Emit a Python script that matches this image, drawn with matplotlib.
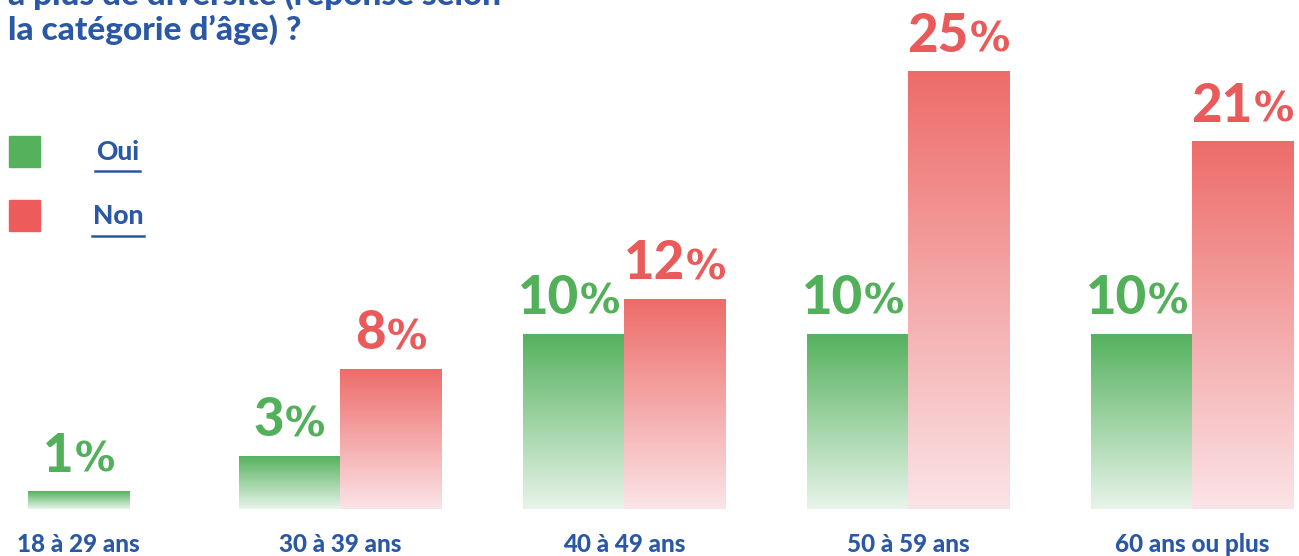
import numpy as np
import matplotlib
matplotlib.use("Agg")
from matplotlib import pyplot as plt
from matplotlib.colors import LinearSegmentedColormap
from matplotlib.patches import Rectangle
from matplotlib.lines import Line2D
from matplotlib.transforms import blended_transform_factory

plt.rcParams['font.family'] = ['Lato', 'DejaVu Sans']

ages = ['18 à 29 ans', '30 à 39 ans', '40 à 49 ans', '50 à 59 ans', '60 ans ou plus']
oui = [1, 3, 10, 10, 10]
non = [None, 8, 12, 25, 21]
series = ['Oui', 'Non']
title_lines = ['à plus de diversité (réponse selon', 'la catégorie d’âge) ?']

BLUE = '#2b58a5'
GREEN = '#52b05a'
RED = '#eb5a5a'
green_cmap = LinearSegmentedColormap.from_list('g', ['#e8f4ea', '#55b25e'])
red_cmap = LinearSegmentedColormap.from_list('r', ['#fbe4e7', '#ed6c69'])

W, H = 1299, 556
fig = plt.figure(figsize=(W / 100, H / 100), dpi=100)
ax = fig.add_axes([0, 47 / H, 1, 509 / H])

w = 0.357          # bar width (group spacing = 1)
solo_shift = 0.08  # groups with only one bar
grad = np.linspace(0, 1, 256).reshape(-1, 1)


def grad_bar(x0, h, cmap):
    ax.imshow(grad, extent=(x0, x0 + w, 0, h), origin='lower', cmap=cmap,
              aspect='auto', interpolation='bicubic', zorder=2)


# bars first
spots = []
for i in range(len(ages)):
    if non[i] is None:
        xg = i - w / 2 + solo_shift
        grad_bar(xg, oui[i], green_cmap)
        spots.append((xg, oui[i], GREEN, False))
    else:
        xg = i - w
        grad_bar(xg, oui[i], green_cmap)
        grad_bar(i, non[i], red_cmap)
        spots.append((xg, oui[i], GREEN, True))
        spots.append((i, non[i], RED, False))

ax.set_xlim(-56 / 284, (W - 56) / 284)
ax.set_ylim(0, 509 / 17.5)
ax.axis('off')

fig.canvas.draw()
r = fig.canvas.get_renderer()


def value_label(x0, h, color, limit):
    t1 = ax.annotate(str(h), (x0, h), xytext=(0, 20), textcoords='offset pixels',
                     ha='left', va='baseline', fontsize=38, fontweight='black', color=color)
    t2 = ax.annotate('%', (x0, h), xytext=(0, 20), textcoords='offset pixels',
                     ha='left', va='baseline', fontsize=29, fontweight='bold',
                     family='DejaVu Sans', color=color)
    wn = t1.get_window_extent(r).width
    wp = t2.get_window_extent(r).width
    gap = 1
    total = wn + gap + wp
    bw = ax.transData.transform((w, 0))[0] - ax.transData.transform((0, 0))[0]
    left = bw / 2 - total / 2
    if limit and left + total > bw - 4:
        left = bw - 4 - total
    t1.xyann = (left, 20)
    t2.xyann = (left + wn + gap, 20)


for s in spots:
    value_label(*s)

lab_tr = blended_transform_factory(ax.transData, fig.transFigure)
for i, age in enumerate(ages):
    xc = i + solo_shift if non[i] is None else i
    ax.text(xc, 4 / H, age, transform=lab_tr, ha='center', va='baseline',
            fontsize=17.5, fontweight='black', color=BLUE)

# title (top line cut by the frame)
fig.text(8 / W, 551 / H, title_lines[0], ha='left', va='baseline',
         fontsize=24, fontweight='black', color=BLUE)
fig.text(8 / W, 516 / H, title_lines[1], ha='left', va='baseline',
         fontsize=24, fontweight='black', color=BLUE)

# legend
for name, col, ytop, ul in [(series[0], '#55b15c', 136, (95, 140, 171)),
                            (series[1], '#ee5b5b', 200, (92, 144, 236))]:
    fig.add_artist(Rectangle((9 / W, (H - ytop - 31) / H), 31 / W, 31 / H,
                             transform=fig.transFigure, color=col))
    fig.text((ul[0] + ul[1]) / 2 / W, (H - ytop - 24) / H, name, ha='center',
             va='baseline', fontsize=19, fontweight='black', color=BLUE)
    fig.add_artist(Line2D([ul[0] / W, ul[1] / W], [(H - ul[2]) / H] * 2,
                          transform=fig.transFigure, color=BLUE, lw=1.8))

fig.savefig('out.png', dpi=100)
